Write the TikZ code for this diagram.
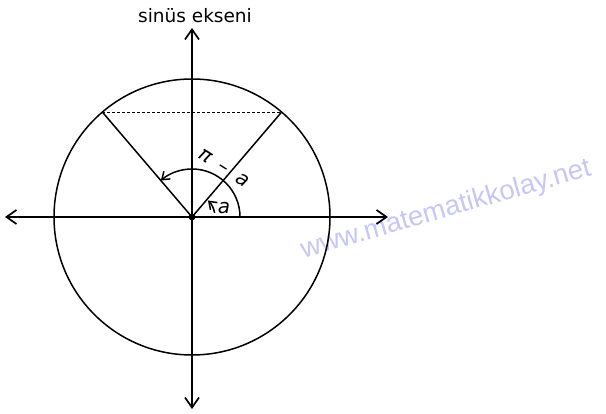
\documentclass[tikz,border=0pt]{standalone}
\usepackage{fontspec}
\setmainfont{DejaVu Sans}
\newfontfamily\wmfont{Liberation Sans}
\usetikzlibrary{arrows.meta,calc}
\definecolor{wm}{RGB}{198,198,248}
\begin{document}
\begin{tikzpicture}[x=1pt,y=-1pt,
  axis/.style={line width=1.7pt,{Straight Barb[length=10pt,width=14pt,line width=1.7pt]}-{Straight Barb[length=10pt,width=14pt,line width=1.7pt]}},
  thin line/.style={line width=1.5pt},
  arcarrow/.style={line width=1.5pt,-{Straight Barb[length=7pt,width=10pt,line width=1.5pt]}},
  lbl/.style={inner sep=0pt,font=\fontsize{18.5}{20}\selectfont},
  var/.style={inner sep=0pt,font=\fontsize{20}{22}\selectfont\itshape}]
\useasboundingbox (0,0) rectangle (606,414);
% watermark
\node[rotate=16,text=wm,font=\wmfont\fontsize{27.5}{29}\selectfont,inner sep=0pt] (wmk) at (446,210) {www.matematikkolay.net};
\coordinate (O) at (192,217);
\coordinate (L) at (5,217);
\coordinate (R) at (388,217);
\coordinate (T) at (192,28);
\coordinate (B) at (192,409);
\coordinate (P1) at ($(O)+(-49.5:138)$);
\coordinate (P2) at ($(O)+(-130.5:138)$);
\draw[thin line] (O) circle[radius=138];
\draw[axis] (L) -- (R);
\draw[axis] (B) -- (T);
\draw[thin line] (O) -- (P1);
\draw[thin line] (O) -- (P2);
\draw[line width=1pt,dash pattern=on 3pt off 2pt] (P2) -- (P1);
\draw[arcarrow] ($(O)+(48,0)$) arc[start angle=0,end angle=-130.5,radius=48];
\draw[arcarrow] ($(O)+(-10:23)$) arc[start angle=-10,end angle=-46,radius=23];
\fill (O) circle[radius=3.4];
\node[lbl] (title) at (195,16) {sinüs ekseni};
\node[var] (alab) at (224,208) {a};
\node[var,rotate=-32] (pilab) at (224,168) {π\hspace{0.55em}–\hspace{0.55em}a};
\end{tikzpicture}
\end{document}
